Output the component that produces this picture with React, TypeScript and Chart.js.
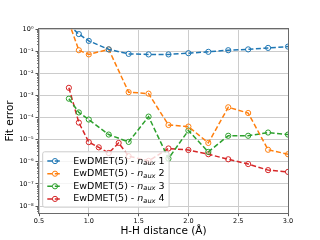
import React, { useEffect, useRef } from "react";
import { Chart, registerables } from "chart.js";

Chart.register(...registerables);

const xTicks = [0.5, 1.0, 1.5, 2.0, 2.5, 3.0];
const yExponents = [-8, -7, -6, -5, -4, -3, -2, -1, 0];

const xAux1 = [0.8, 0.9, 1.0, 1.2, 1.4, 1.6, 1.8, 2.0, 2.2, 2.4, 2.6, 2.8, 3.0];
const aux1 = [1.5, 0.59, 0.29, 0.12, 0.075, 0.071, 0.071, 0.081, 0.093, 0.11, 0.12, 0.14, 0.16];

const xAux2 = [0.8, 0.9, 1.0, 1.2, 1.4, 1.6, 1.8, 2.0, 2.2, 2.4, 2.6, 2.8, 3.0];
const aux2 = [2.0, 0.11, 0.071, 0.12, 1.4e-3, 1.2e-3, 4.6e-5, 3.9e-5, 7.1e-6, 2.9e-4, 1.6e-4, 3.5e-6, 2.2e-6];

const xAux3 = [0.8, 0.9, 1.0, 1.2, 1.4, 1.6, 1.8, 2.0, 2.2, 2.4, 2.6, 2.8, 3.0];
const aux3 = [7.1e-4, 1.7e-4, 8.1e-5, 1.7e-5, 7.9e-6, 1.1e-4, 1.4e-6, 2.6e-5, 2.8e-6, 1.5e-5, 1.5e-5, 2.1e-5, 1.7e-5];

const xAux4 = [0.8, 0.9, 1.0, 1.1, 1.2, 1.3, 1.4, 1.6, 1.8, 2.0, 2.2, 2.4, 2.6, 2.8, 3.0];
const aux4 = [2.2e-3, 5.9e-5, 7.7e-6, 4.5e-6, 2.5e-6, 7.1e-6, 1.8e-6, 1.1e-6, 4.0e-6, 3.4e-6, 2.2e-6, 1.3e-6, 7.9e-7, 4.2e-7, 3.5e-7];

const seriesNames = ["1", "2", "3", "4"];
const seriesColors = ["#1f77b4", "#ff7f0e", "#2ca02c", "#d62728"];

const FONT = "'DejaVu Sans', sans-serif";

const SUP: Record<string, string> = {
  "-": "\u207B", "0": "\u2070", "1": "\u00B9", "2": "\u00B2", "3": "\u00B3",
  "4": "\u2074", "5": "\u2075", "6": "\u2076", "7": "\u2077", "8": "\u2078", "9": "\u2079",
};
const sup = (n: number) => String(n).split("").map((c) => SUP[c] || c).join("");

const framePlugin = {
  id: "frameLegend",
  afterDraw(chart: any) {
    const { ctx, chartArea: a } = chart;
    const yScale = chart.scales.y;
    ctx.save();
    // minor ticks on log axis
    ctx.strokeStyle = "#555";
    ctx.lineWidth = 0.8;
    for (let e = -9; e <= 0; e++) {
      for (let k = 2; k <= 9; k++) {
        const v = k * Math.pow(10, e);
        if (v < yScale.min || v > yScale.max) continue;
        const py = Math.round(yScale.getPixelForValue(v)) + 0.5;
        ctx.beginPath();
        ctx.moveTo(a.left - 2, py);
        ctx.lineTo(a.left, py);
        ctx.stroke();
      }
    }
    // frame
    ctx.strokeStyle = "#6a6a6a";
    ctx.lineWidth = 1;
    ctx.strokeRect(Math.round(a.left) - 0.5, Math.round(a.top) - 0.5, Math.round(a.right - a.left) + 1, Math.round(a.bottom - a.top) + 1);

    // legend
    const fs = 9.5;
    const rowH = 12.6;
    const n = chart.data.datasets.length;
    const boxL = a.left + 3.7;
    const boxB = a.bottom - 5.5;
    const boxH = 17.6 + rowH * (n - 1);
    const boxT = boxB - boxH;
    const pre = "EwDMET(5) - ";
    ctx.font = `${fs}px ${FONT}`;
    const wPre = ctx.measureText(pre).width;
    ctx.font = `italic ${fs}px ${FONT}`;
    const wN = ctx.measureText("n").width;
    ctx.font = `italic ${fs * 0.7}px ${FONT}`;
    const wSub = ctx.measureText("aux").width;
    ctx.font = `${fs}px ${FONT}`;
    const wEnd = ctx.measureText(" 1").width;
    const textX = boxL + 30.6;
    const boxW = textX - boxL + wPre + wN + wSub + wEnd + 4.5;

    ctx.fillStyle = "rgba(255,255,255,0.8)";
    ctx.strokeStyle = "#cccccc";
    ctx.lineWidth = 1;
    ctx.beginPath();
    if (ctx.roundRect) ctx.roundRect(boxL, boxT, boxW, boxH, 2);
    else ctx.rect(boxL, boxT, boxW, boxH);
    ctx.fill();
    ctx.stroke();

    chart.data.datasets.forEach((ds: any, i: number) => {
      const cy = boxT + 9.3 + i * rowH;
      ctx.strokeStyle = ds.borderColor;
      ctx.lineWidth = 1.5;
      ctx.setLineDash([5, 2.5]);
      ctx.beginPath();
      ctx.moveTo(boxL + 4.6, cy);
      ctx.lineTo(boxL + 19.5, cy);
      ctx.stroke();
      ctx.setLineDash([]);
      ctx.lineWidth = 1;
      ctx.beginPath();
      ctx.arc(boxL + 12.3, cy, 2.6, 0, Math.PI * 2);
      ctx.stroke();

      ctx.fillStyle = "#000";
      ctx.textBaseline = "middle";
      ctx.textAlign = "left";
      let x = textX;
      ctx.font = `${fs}px ${FONT}`;
      ctx.fillText(pre, x, cy);
      x += wPre;
      ctx.font = `italic ${fs}px ${FONT}`;
      ctx.fillText("n", x, cy);
      x += wN;
      ctx.font = `italic ${fs * 0.7}px ${FONT}`;
      ctx.fillText("aux", x, cy + 2.3);
      x += wSub;
      ctx.font = `${fs}px ${FONT}`;
      ctx.fillText(" " + seriesNames[i], x, cy);
    });
    ctx.restore();
  },
};

export default function App() {
  const ref = useRef<HTMLCanvasElement | null>(null);
  useEffect(() => {
    if (!ref.current) return;
    const xs = [xAux1, xAux2, xAux3, xAux4];
    const ys = [aux1, aux2, aux3, aux4];
    const datasets = ys.map((vals, i) => ({
      label: "EwDMET(5) - n_aux " + seriesNames[i],
      data: vals.map((v, j) => ({ x: xs[i][j], y: v })),
      borderColor: seriesColors[i],
      backgroundColor: seriesColors[i],
      borderWidth: 1.5,
      borderDash: [5, 2.5],
      pointRadius: 2.6,
      pointBorderWidth: 1,
      pointBackgroundColor: "rgba(0,0,0,0)",
      pointBorderColor: seriesColors[i],
      tension: 0,
      fill: false,
      clip: 0,
    }));
    const chart = new Chart(ref.current, {
      type: "line",
      data: { datasets },
      plugins: [framePlugin],
      options: {
        animation: false,
        responsive: false,
        devicePixelRatio: 1,
        layout: { padding: { left: 0, top: 29, right: 32, bottom: 0 } },
        plugins: { legend: { display: false }, tooltip: { enabled: false } },
        scales: {
          x: {
            type: "linear",
            min: 0.5,
            max: 3.0,
            afterBuildTicks: (s: any) => {
              s.ticks = xTicks.map((v) => ({ value: v }));
            },
            afterFit: (s: any) => {
              s.height = 27.3;
            },
            ticks: {
              autoSkip: false,
              maxRotation: 0,
              padding: 1.5,
              color: "#000",
              font: { family: FONT, size: 6.5 },
              callback: (v: any) => Number(v).toFixed(1),
            },
            grid: { color: "#cccccc", lineWidth: 1, tickColor: "#555", tickLength: 3.5 },
            border: { display: false },
            title: {
              display: true,
              text: "H-H distance (Å)",
              color: "#000",
              font: { family: FONT, size: 10.5 },
              padding: { top: 0, bottom: 2.5 },
            },
          },
          y: {
            type: "logarithmic",
            min: Math.pow(10, -8.3),
            max: 1,
            afterBuildTicks: (s: any) => {
              s.ticks = yExponents.map((e) => ({ value: Math.pow(10, e) }));
            },
            afterFit: (s: any) => {
              s.width = 39;
            },
            ticks: {
              autoSkip: false,
              padding: 2,
              color: "#000",
              font: { family: FONT, size: 6.5 },
              callback: (v: any) => "10" + sup(Math.round(Math.log10(Number(v)))),
            },
            grid: { color: "#cccccc", lineWidth: 1, tickColor: "#555", tickLength: 3.5 },
            border: { display: false },
            title: {
              display: true,
              text: "Fit error",
              color: "#000",
              font: { family: FONT, size: 10.5 },
              padding: { top: 4, bottom: 0 },
            },
          },
        },
      },
    } as any);
    return () => chart.destroy();
  }, []);
  return (
    <div style={{ position: "fixed", left: 0, top: 0, width: 320, height: 240, background: "#fff" }}>
      <canvas ref={ref} width={320} height={240} style={{ width: 320, height: 240, display: "block" }} />
    </div>
  );
}
